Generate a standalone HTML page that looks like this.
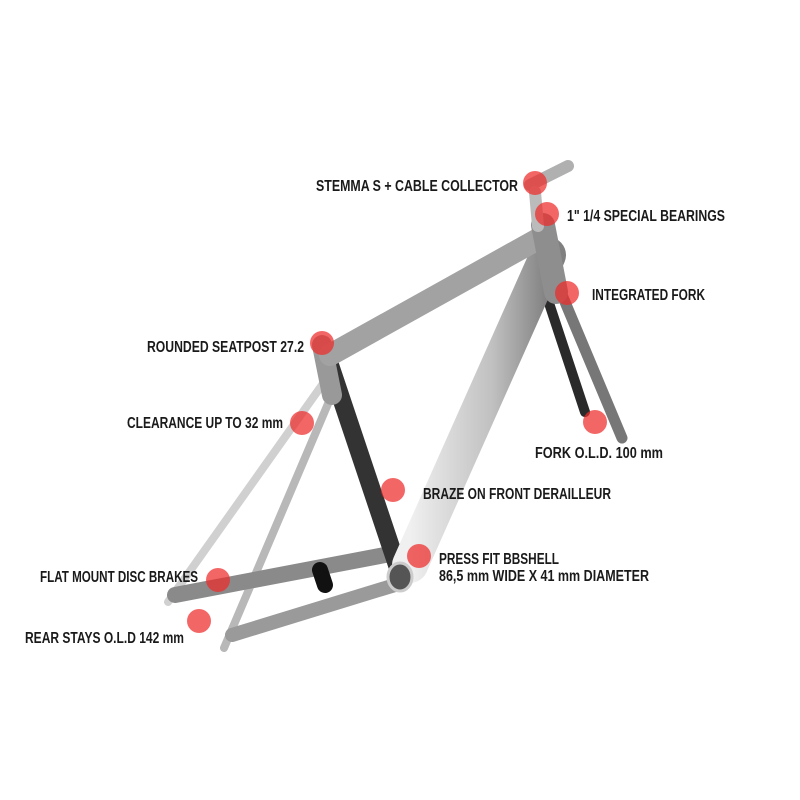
<!DOCTYPE html>
<html><head><style>
body{margin:0;background:#fff;}
svg{display:block}
text{font-family:"Liberation Sans Narrow","Liberation Sans",sans-serif;font-weight:bold;font-size:16px;fill:#1a1a1a;}
</style></head><body>
<svg width="800" height="800" viewBox="0 0 800 800">
<defs>
<linearGradient id="g2" x1="0" y1="0" x2="1" y2="0"><stop offset="0" stop-color="#f0f0f0"/><stop offset="0.6" stop-color="#c0c0c0"/><stop offset="1" stop-color="#808080"/></linearGradient>
</defs>
<g stroke-linecap="round" fill="none">
<line x1="548" y1="300" x2="585" y2="412" stroke="#2a2a2a" stroke-width="10"/>
<line x1="560" y1="290" x2="622" y2="438" stroke="#777" stroke-width="11"/>
<line x1="322" y1="385" x2="168" y2="602" stroke="#d0d0d0" stroke-width="8"/>
<line x1="336" y1="385" x2="224" y2="648" stroke="#b8b8b8" stroke-width="8"/>
<line x1="385" y1="555" x2="175" y2="595" stroke="#8a8a8a" stroke-width="16"/>
<line x1="395" y1="585" x2="232" y2="635" stroke="#9a9a9a" stroke-width="14"/>
<line x1="320" y1="570" x2="325" y2="585" stroke="#111" stroke-width="16"/>
<line x1="325" y1="350" x2="398" y2="568" stroke="#333" stroke-width="18"/>
<line x1="322" y1="345" x2="332" y2="395" stroke="#999" stroke-width="20"/>
<line x1="548" y1="255" x2="410" y2="565" stroke="url(#g2)" stroke-width="36"/>
<line x1="540" y1="238" x2="330" y2="355" stroke="#a2a2a2" stroke-width="22"/>
<line x1="543" y1="225" x2="556" y2="292" stroke="#8e8e8e" stroke-width="24"/>
<line x1="530" y1="185" x2="568" y2="166" stroke="#b0b0b0" stroke-width="12"/>
<line x1="535" y1="192" x2="538" y2="226" stroke="#bbb" stroke-width="12"/>
</g>
<ellipse cx="400" cy="577" rx="12" ry="14" fill="#555" stroke="#ccc" stroke-width="3"/>
<g fill="#ee2b2b" fill-opacity="0.72">
<circle cx="535" cy="183" r="12"/><circle cx="547" cy="214" r="12"/><circle cx="567" cy="293" r="12"/>
<circle cx="322" cy="343" r="12"/><circle cx="302" cy="423" r="12"/><circle cx="595" cy="422" r="12"/>
<circle cx="393" cy="490" r="12"/><circle cx="419" cy="556" r="12"/><circle cx="218" cy="580" r="12"/>
<circle cx="199" cy="621" r="12"/>
</g>
<text x="316" y="191" textLength="202" lengthAdjust="spacingAndGlyphs">STEMMA S + CABLE COLLECTOR</text>
<text x="567" y="221" textLength="158" lengthAdjust="spacingAndGlyphs">1" 1/4 SPECIAL BEARINGS</text>
<text x="592" y="300" textLength="113" lengthAdjust="spacingAndGlyphs">INTEGRATED FORK</text>
<text x="147" y="352" textLength="157" lengthAdjust="spacingAndGlyphs">ROUNDED SEATPOST 27.2</text>
<text x="127" y="428" textLength="156" lengthAdjust="spacingAndGlyphs">CLEARANCE UP TO 32 mm</text>
<text x="535" y="458" textLength="128" lengthAdjust="spacingAndGlyphs">FORK O.L.D. 100 mm</text>
<text x="423" y="499" textLength="188" lengthAdjust="spacingAndGlyphs">BRAZE ON FRONT DERAILLEUR</text>
<text x="439" y="564" textLength="120" lengthAdjust="spacingAndGlyphs">PRESS FIT BBSHELL</text>
<text x="439" y="581" textLength="210" lengthAdjust="spacingAndGlyphs">86,5 mm WIDE X 41 mm DIAMETER</text>
<text x="40" y="582" textLength="158" lengthAdjust="spacingAndGlyphs">FLAT MOUNT DISC BRAKES</text>
<text x="25" y="643" textLength="159" lengthAdjust="spacingAndGlyphs">REAR STAYS O.L.D 142 mm</text>
</svg>
</body></html>
